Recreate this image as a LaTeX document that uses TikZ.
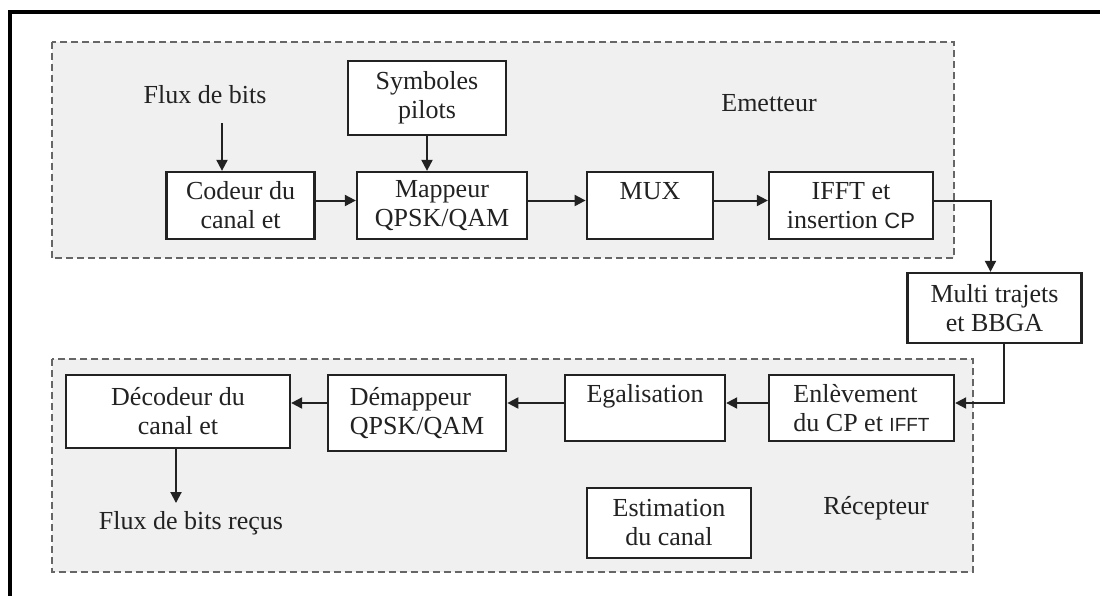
\documentclass[tikz,border=0pt]{standalone}
\usepackage{fontspec}
\setmainfont{Liberation Serif}
\newfontfamily\sansf{Liberation Sans}
\usetikzlibrary{arrows.meta}
\definecolor{zone}{HTML}{F0F0F0}
\definecolor{ink}{HTML}{222222}
\begin{document}
\begin{tikzpicture}[x=1pt,y=-1pt,
  every node/.style={font=\fontsize{26}{29}\selectfont, text=ink},
  blk/.style={draw=ink, line width=2.3pt, fill=white, align=center, inner sep=0pt},
  zonebox/.style={draw=black!60, line width=2pt, dash pattern=on 7pt off 4pt, fill=zone},
  arr/.style={draw=ink, line width=2pt, -{Triangle[length=11pt,width=11pt]}},
  lbl/.style={inner sep=0pt}]
\useasboundingbox (0,0) rectangle (1100,595);
\fill[white] (0,0) rectangle (1100,595);
% outer frame, open towards the right and bottom edges
\draw[line width=3.2pt, black] (10,600) -- (10,12) -- (1100,12);

% transmitter and receiver zones
\draw[zonebox] (51.6,41.7) rectangle (954,258);
\draw[zonebox] (51.6,359) rectangle (973,572);

% transmitter blocks
\node[blk, minimum width=148pt, minimum height=67pt] (codeur) at (240.6,205.5) {Codeur du\\canal et};
\node[blk, minimum width=170pt, minimum height=67pt] (mappeur) at (442,205.5) {Mappeur\\QPSK/QAM};
\node[blk, minimum width=158pt, minimum height=74pt] (symb) at (427,98) {Symboles\\pilots};
\node[blk, minimum width=126.5pt, minimum height=67pt] (mux) at (650,205.5) {MUX\\\phantom{x}};
\node[blk, minimum width=164pt, minimum height=67pt] (ifft) at (851,205.5) {IFFT et\\insertion {\sansf\fontsize{22}{29}\selectfont CP}};

% channel
\node[blk, minimum width=174pt, minimum height=70pt] (multi) at (994.5,308) {Multi trajets\\et BBGA};

% receiver blocks
\node[blk, align=left, minimum width=185pt, minimum height=66pt] (enlev) at (861.5,408) {Enlèvement\\du CP et {\sansf\fontsize{19}{29}\selectfont IFFT}};
\node[blk, minimum width=160pt, minimum height=66pt] (egal) at (645,408) {Egalisation\\\phantom{x}};
\node[blk, align=left, minimum width=178.4pt, minimum height=76pt] (demap) at (417,413) {Démappeur\\QPSK/QAM};
\node[blk, minimum width=224pt, minimum height=73pt] (decod) at (178,411.5) {Décodeur du\\canal et};
\node[blk, minimum width=164pt, minimum height=70pt] (estim) at (669,523) {Estimation\\du canal};

% free labels
\node[lbl] (flux) at (205,95) {Flux de bits};
\node[lbl] (emet) at (769,103) {Emetteur};
\node[lbl] (recep) at (876,508) {Récepteur};
\node[lbl] (recus) at (191,523) {Flux de bits reçus};
\coordinate (fluxin) at (222,123);

% connectors
\draw[arr] (fluxin) -- (fluxin |- codeur.north);
\draw[arr] (symb.south) -- (symb.south |- mappeur.north);
\draw[arr] ([yshift=5pt]codeur.east) -- ([yshift=5pt]mappeur.west);
\draw[arr] ([yshift=5pt]mappeur.east) -- ([yshift=5pt]mux.west);
\draw[arr] ([yshift=5pt]mux.east) -- ([yshift=5pt]ifft.west);
\draw[arr] ([yshift=5pt]ifft.east) -| ([xshift=-4pt]multi.north);
\draw[arr] ([xshift=9.5pt]multi.south) |- ([yshift=5pt]enlev.east);
\draw[arr] ([yshift=5pt]enlev.west) -- ([yshift=5pt]egal.east);
\draw[arr] ([yshift=5pt]egal.west) -- ([yshift=5pt]egal.west -| demap.east);
\draw[arr] ([yshift=5pt]demap.west |- enlev.west) -- ([yshift=5pt]decod.east |- enlev.west);
\draw[arr] ([xshift=-2pt]decod.south) -- ([xshift=-2pt,yshift=8pt]decod.south |- recus.north);
\end{tikzpicture}
\end{document}
